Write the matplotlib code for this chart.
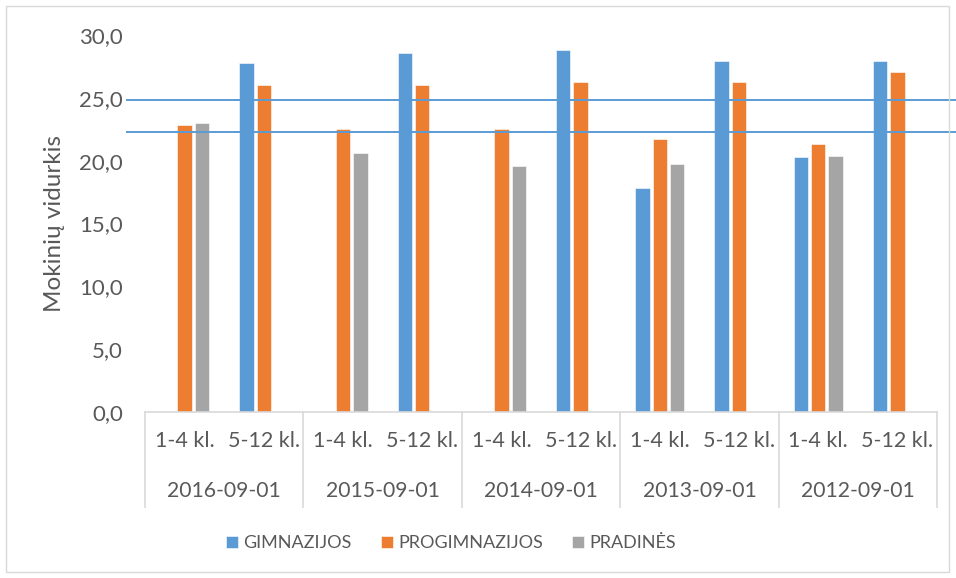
import numpy as np
import matplotlib.pyplot as plt
from matplotlib.patches import Rectangle
from matplotlib.lines import Line2D
import matplotlib.transforms as mtransforms

plt.rcParams['font.family'] = ['Lato', 'DejaVu Sans']

groups = ["2016-09-01", "2015-09-01", "2014-09-01", "2013-09-01", "2012-09-01"]
classes = ["1-4 kl.", "5-12 kl."]
series = ["GIMNAZIJOS", "PROGIMNAZIJOS", "PRADINĖS"]
colors = ["#5B9BD5", "#ED7D31", "#A5A5A5"]

gimnazijos = [np.nan, 27.8, np.nan, 28.6, np.nan, 28.8, 17.8, 27.9, 20.3, 27.9]
progimnazijos = [22.85, 26.05, 22.5, 26.05, 22.5, 26.25, 21.75, 26.25, 21.35, 27.05]
pradines = [23.0, np.nan, 20.6, np.nan, 19.6, np.nan, 19.7, np.nan, 20.35, np.nan]

ref_lines = [24.85, 22.25]

text_col = "#595959"
axis_col = "#D9D9D9"

fig = plt.figure(figsize=(9.56, 5.78), dpi=100)
ax = fig.add_axes([145 / 956, 1 - 412 / 578, 792 / 956, 377 / 578])

x = np.arange(len(groups) * len(classes))
offsets = [-0.22, 0.0, 0.22]
for vals, off, c, name in zip([gimnazijos, progimnazijos, pradines], offsets, colors, series):
    ax.bar(x + off, vals, width=0.18, color=c, label=name, edgecolor="white", linewidth=0.4)

ax.set_xlim(-0.5, len(x) - 0.5)
ax.set_ylim(0, 30)
ax.set_yticks(np.arange(0, 31, 5))
ax.set_yticklabels([f"{v:.1f}".replace(".", ",") for v in np.arange(0, 31, 5)],
                   fontsize=16, color=text_col)
ax.tick_params(axis="y", length=0, pad=16)
ax.set_xticks([])
for s in ["top", "right", "left"]:
    ax.spines[s].set_visible(False)
ax.spines["bottom"].set_color(axis_col)
ax.spines["bottom"].set_linewidth(1.2)

ax.set_ylabel("Mokinių vidurkis", fontsize=17.5, color=text_col, labelpad=10)

trans = mtransforms.blended_transform_factory(ax.transData, ax.transAxes)
for i in x:
    ax.text(i, -0.077, classes[i % 2], transform=trans, ha="center", va="center",
            fontsize=15.5, color=text_col)
for g, name in enumerate(groups):
    ax.text(2 * g + 0.5, -0.21, name, transform=trans, ha="center", va="center",
            fontsize=15.2, color=text_col)
for b in np.arange(-0.5, len(x), 2):
    ax.add_line(Line2D([b, b], [0, -0.252], transform=trans, color=axis_col,
                       linewidth=1.2, clip_on=False))

for v in ref_lines:
    ax.axhline(v, xmin=-0.023, xmax=1.03, color="#5B9BD5", linewidth=1.4, clip_on=False)

fig.legend(loc="center", bbox_to_anchor=(451 / 956, 1 - 543 / 578), ncol=3, frameon=False,
           fontsize=13, handlelength=0.65, handleheight=0.65, handletextpad=0.3,
           columnspacing=1.6, labelcolor=text_col)

fig.add_artist(Rectangle((6 / 956, 6 / 578), 943 / 956, 566 / 578, transform=fig.transFigure,
                         fill=False, edgecolor=axis_col, linewidth=1))

fig.savefig("out.png", dpi=100)
